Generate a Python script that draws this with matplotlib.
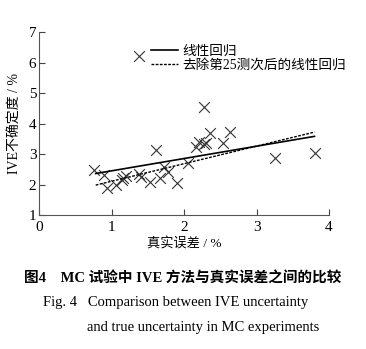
import matplotlib
matplotlib.use("Agg")
import matplotlib.pyplot as plt

plt.rcParams['font.family'] = ['Liberation Serif', 'Noto Sans CJK SC']

# data
true_err = [0.76, 0.90, 0.94, 1.06, 1.14, 1.16, 1.20, 1.38, 1.38, 1.40,
            1.53, 1.61, 1.67, 1.72, 1.78, 1.90, 2.05, 2.17, 2.21, 2.27,
            2.28, 2.30, 2.36, 2.53, 2.63, 3.26, 3.80]
ive_unc = [2.46, 2.31, 1.87, 1.98, 2.14, 2.22, 2.28, 6.20, 2.36, 2.25,
           2.09, 3.13, 2.22, 2.58, 2.42, 2.06, 2.71, 3.22, 3.40, 4.55,
           3.32, 3.36, 3.69, 3.35, 3.73, 2.88, 3.04]

fit_x = [0.78, 3.80]
fit_all = [2.36, 3.58]
fit_excl = [1.98, 3.72]

fig = plt.figure(figsize=(3.66, 3.49), dpi=100)
ax = fig.add_axes([0.107, 0.384, 0.792, 0.524])

ax.scatter(true_err, ive_unc, marker='x', s=60, c='#333333', linewidths=0.8)
ax.plot(fit_x, fit_all, '-', color='black', lw=1.2, label='线性回归')
ax.plot(fit_x, fit_excl, color='black', lw=1.0, ls=(0, (2, 1)),
        label='去除第25测次后的线性回归')

ax.set_xlim(0, 4)
ax.set_ylim(1, 7)
ax.set_xticks([0, 1, 2, 3, 4])
ax.set_yticks([1, 2, 3, 4, 5, 6, 7])
ax.tick_params(direction='in', length=4, width=0.8, colors='#444444',
               labelsize=11, labelcolor='black', pad=2)
ax.tick_params(axis='x', pad=4)
for s in ('top', 'right'):
    ax.spines[s].set_visible(False)
for s in ('left', 'bottom'):
    ax.spines[s].set_color('#555555')
    ax.spines[s].set_linewidth(0.8)

ax.set_xlabel('真实误差 / %', fontsize=9.5, labelpad=2)
ax.set_ylabel('IVE不确定度 / %', fontsize=10, labelpad=5)

ax.legend(loc='upper right', bbox_to_anchor=(1.10, 1.0), frameon=False,
          fontsize=9.8, handlelength=2.0, handletextpad=0.3,
          labelspacing=0.1)

fig.text(0.5, 0.201, '图4　MC 试验中 IVE 方法与真实误差之间的比较',
         ha='center', va='center', fontsize=10.5, fontweight='bold')
fig.text(0.117, 0.132, 'Fig. 4   Comparison between IVE uncertainty',
         ha='left', va='center', fontsize=10.5)
fig.text(0.238, 0.063, 'and true uncertainty in MC experiments',
         ha='left', va='center', fontsize=10.5)

fig.savefig('out.png', dpi=100)
